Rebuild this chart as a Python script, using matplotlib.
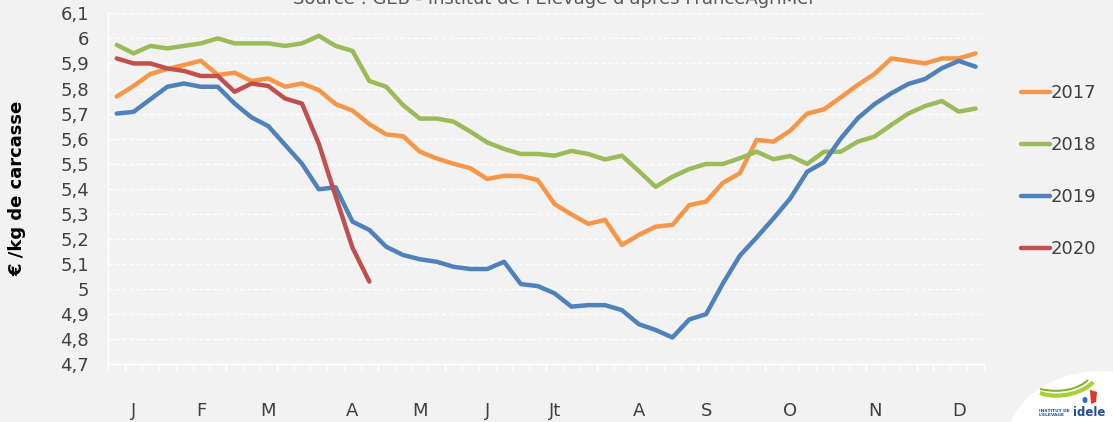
import matplotlib
matplotlib.use("Agg")
import matplotlib.pyplot as plt
import numpy as np
from matplotlib.patches import Ellipse, Polygon
from matplotlib.path import Path
import matplotlib.patches as mpatches

# ---------------- data ----------------
months = ["J", "F", "M", "A", "M", "J", "Jt", "A", "S", "O", "N", "D"]
month_weeks = [1, 5, 9, 14, 18, 22, 26, 31, 35, 40, 45, 50]
yticks = [4.7, 4.8, 4.9, 5.0, 5.1, 5.2, 5.3, 5.4, 5.5, 5.6, 5.7, 5.8, 5.9, 6.0, 6.1]
ytick_labels = ["4,7", "4,8", "4,9", "5", "5,1", "5,2", "5,3", "5,4", "5,5",
                "5,6", "5,7", "5,8", "5,9", "6", "6,1"]

s2017 = [5.768, 5.81, 5.858, 5.878, 5.894, 5.911, 5.854, 5.863, 5.83, 5.84,
         5.807, 5.82, 5.794, 5.738, 5.712, 5.658, 5.617, 5.61, 5.548, 5.521,
         5.50, 5.482, 5.439, 5.452, 5.451, 5.435, 5.339, 5.298, 5.26, 5.276,
         5.176, 5.216, 5.249, 5.256, 5.335, 5.349, 5.424, 5.462, 5.595, 5.588,
         5.632, 5.70, 5.717, 5.765, 5.814, 5.858, 5.92, 5.91, 5.90, 5.92,
         5.92, 5.94]
s2018 = [5.974, 5.94, 5.97, 5.96, 5.97, 5.98, 6.00, 5.98, 5.98, 5.98,
         5.97, 5.98, 6.01, 5.97, 5.95, 5.83, 5.807, 5.734, 5.68, 5.68,
         5.668, 5.628, 5.585, 5.559, 5.539, 5.539, 5.532, 5.551, 5.539, 5.517,
         5.532, 5.471, 5.408, 5.448, 5.479, 5.499, 5.499, 5.522, 5.548, 5.518,
         5.531, 5.499, 5.548, 5.548, 5.588, 5.608, 5.655, 5.70, 5.73, 5.75,
         5.708, 5.72]
s2019 = [5.70, 5.707, 5.757, 5.807, 5.82, 5.807, 5.807, 5.74, 5.685, 5.65,
         5.575, 5.50, 5.398, 5.406, 5.269, 5.236, 5.169, 5.136, 5.119, 5.109,
         5.089, 5.08, 5.08, 5.109, 5.02, 5.012, 4.983, 4.93, 4.936, 4.936,
         4.916, 4.86, 4.837, 4.807, 4.879, 4.90, 5.023, 5.133, 5.206, 5.282,
         5.362, 5.468, 5.506, 5.601, 5.681, 5.738, 5.781, 5.818, 5.838, 5.881,
         5.91, 5.887]
s2020 = [5.92, 5.90, 5.90, 5.88, 5.87, 5.85, 5.85, 5.787, 5.82, 5.81,
         5.76, 5.74, 5.58, 5.37, 5.165, 5.03]

series = [("2017", s2017, "#F79646"),
          ("2018", s2018, "#9BBB59"),
          ("2019", s2019, "#4F81BD"),
          ("2020", s2020, "#C0504D")]

n_weeks = 52
bg = "#F2F2F2"
txt = "#404040"

plt.rcParams['font.family'] = ['DejaVu Sans']

W, H = 1113, 422
fig = plt.figure(figsize=(W / 100, H / 100), dpi=100, facecolor=bg)
ax = fig.add_axes([108.3 / W, 1 - 364.3 / H, (984 - 108.3) / W, (364.3 - 13.3) / H])
ax.set_facecolor(bg)

for name, vals, col in series:
    x = np.arange(len(vals)) + 0.5
    ax.plot(x, vals, color=col, lw=3.2, label=name, solid_joinstyle="round",
            solid_capstyle="round", zorder=3)

ax.set_xlim(0, n_weeks)
ax.set_ylim(4.7, 6.1)

ax.set_yticks(yticks)
ax.set_yticklabels(ytick_labels, fontsize=13, color=txt)
ax.tick_params(axis="y", length=0, pad=14)

ax.set_xticks(np.array(month_weeks) + 0.5)
ax.set_xticklabels(months, fontsize=13, color=txt)
ax.set_xticks(np.arange(0, n_weeks + 1), minor=True)
ax.tick_params(axis="x", which="major", length=0, pad=27)
ax.tick_params(axis="x", which="minor", length=5, width=1, color="white", direction="out")

ax.grid(axis="y", color="white", linestyle=(0, (3, 2)), linewidth=1, zorder=0)
for sp in ["top", "right"]:
    ax.spines[sp].set_visible(False)
for sp in ["left", "bottom"]:
    ax.spines[sp].set_color("white")
    ax.spines[sp].set_linewidth(1)

ax.set_ylabel("€ /kg de carcasse", fontsize=13, fontweight="bold", color="#000000")
ax.yaxis.set_label_coords(-(108.3 - 26) / (984 - 108.3), 0.5)

leg = fig.legend(loc="upper left", bbox_to_anchor=(1005 / W, 1 - 68 / H),
                 frameon=False, fontsize=13, handlelength=1.6, handletextpad=0.05,
                 labelspacing=1.88, labelcolor=txt)
for h in leg.get_lines():
    h.set_linewidth(3.2)

# title (clipped at top in the original)
fig.text(554 / W, 1 - 4 / H, "Source : GEB - Institut de l'Elevage d'après FranceAgriMer",
         ha="center", va="baseline", fontsize=13, color="#595959")

# logo
ell = Ellipse((1102 / W, 1 - 442 / H), 190 / W, 142 / H, angle=0,
              transform=fig.transFigure, facecolor="white", edgecolor="none", zorder=1)
fig.patches.append(ell)
verts = [(1040 / W, 1 - 393 / H), (1060 / W, 1 - 400 / H), (1085 / W, 1 - 392 / H),
         (1093 / W, 1 - 382 / H)]
path = Path(verts, [Path.MOVETO, Path.CURVE4, Path.CURVE4, Path.CURVE4])
fig.patches.append(mpatches.PathPatch(path, transform=fig.transFigure, facecolor="none",
                                      edgecolor="#A8CF38", lw=3, zorder=2))
verts2 = [(1040 / W, 1 - 389 / H), (1062 / W, 1 - 394 / H), (1080 / W, 1 - 388 / H),
          (1088 / W, 1 - 380 / H)]
path2 = Path(verts2, [Path.MOVETO, Path.CURVE4, Path.CURVE4, Path.CURVE4])
fig.patches.append(mpatches.PathPatch(path2, transform=fig.transFigure, facecolor="none",
                                      edgecolor="#7FB52C", lw=1.5, zorder=2))
fig.patches.append(Polygon([(1090 / W, 1 - 390 / H), (1097 / W, 1 - 392 / H),
                            (1096 / W, 1 - 402 / H), (1091 / W, 1 - 404 / H)],
                           closed=True, transform=fig.transFigure,
                           facecolor="#E5332A", edgecolor="none", zorder=2))
fig.patches.append(Ellipse((1085 / W, 1 - 400 / H), 5 / W, 6 / H, transform=fig.transFigure,
                           facecolor="#2E6DB4", edgecolor="none", zorder=2))
fig.text(1039 / W, 1 - 413 / H, "INSTITUT DE\nL'ELEVAGE", fontsize=3.2, color="#1F4E9A",
         fontweight="bold", ha="left", va="center", linespacing=1.0, zorder=3)
fig.text(1073 / W, 1 - 412 / H, "idele", fontsize=8.5, color="#1F4E9A",
         fontweight="bold", ha="left", va="center", zorder=3)

fig.savefig("out.png", dpi=100, facecolor=bg)
